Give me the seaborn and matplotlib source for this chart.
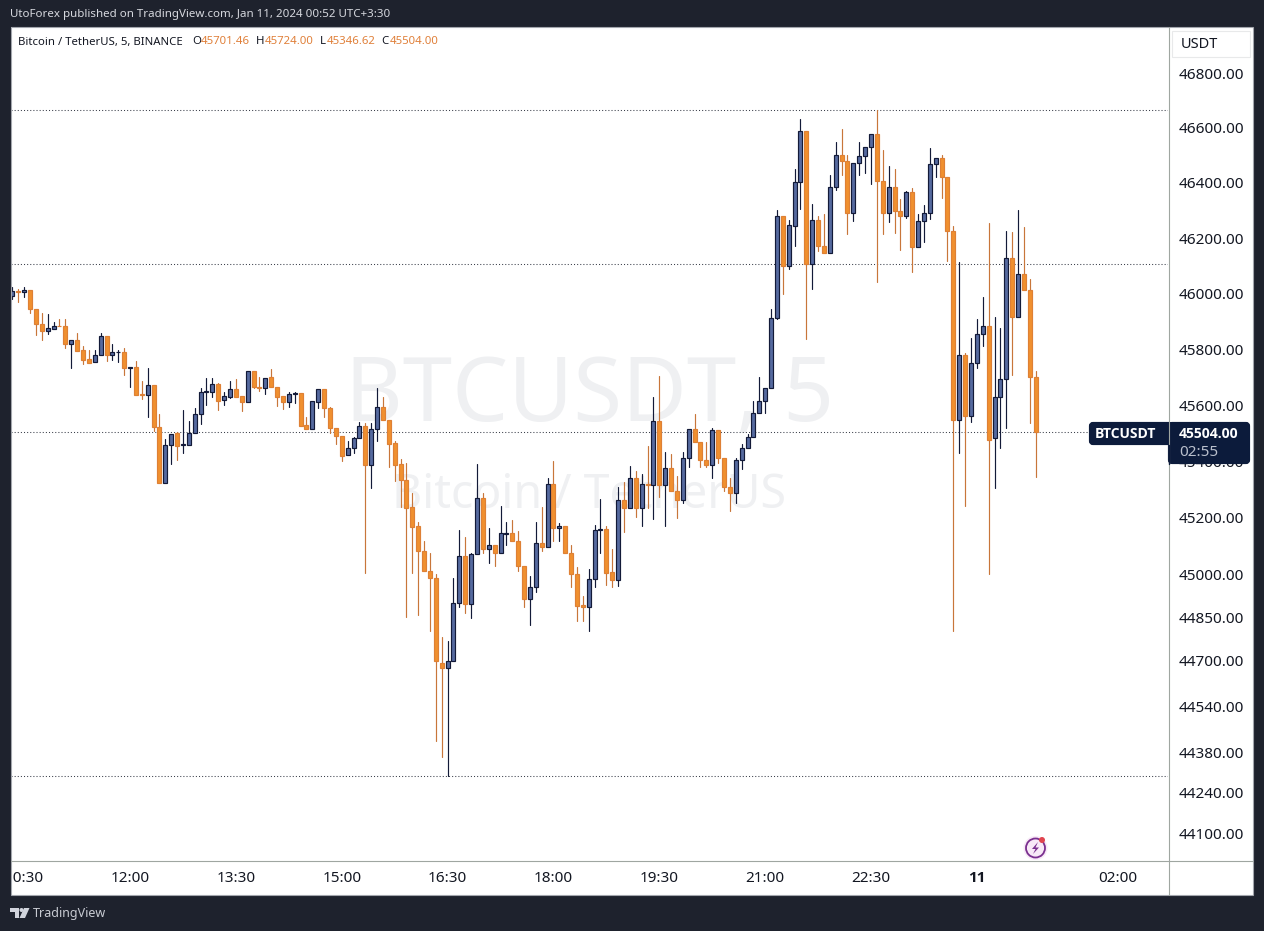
# import modules
import pandas as pd
import numpy as np
import matplotlib.pyplot as plt
import seaborn as sns
from matplotlib.patches import Rectangle, Circle, Polygon, FancyBboxPatch
from matplotlib.ticker import NullLocator

# 5 minute candles, first one at 10:20
opens = [45990, 46011, 46004, 46014, 45946, 45889, 45867, 45874, 45885, 45882,
         45820, 45835, 45799, 45767, 45756, 45781, 45849, 45781, 45790, 45792,
         45734, 45738, 45641, 45637, 45673, 45523, 45323, 45458, 45501, 45458,
         45458, 45501, 45569, 45648, 45648, 45677, 45619, 45630, 45659, 45634,
         45612, 45724, 45666, 45663, 45702, 45666, 45634, 45612, 45641, 45645,
         45530, 45515, 45612, 45659, 45591, 45519, 45490, 45422, 45447, 45483,
         45526, 45386, 45515, 45594, 45548, 45465, 45390, 45334, 45239, 45173,
         45082, 45012, 44987, 44689, 44672, 44696, 44900, 45064, 44896, 45071,
         45270, 45092, 45103, 45078, 45145, 45148, 45117, 45029, 44914, 44957,
         45113, 45096, 45320, 45166, 45173, 45075, 45001, 44893, 44886, 44984,
         45159, 45162, 45008, 44981, 45263, 45236, 45341, 45236, 45320, 45316,
         45544, 45316, 45376, 45295, 45263, 45411, 45515, 45469, 45404, 45386,
         45512, 45411, 45309, 45288, 45404, 45447, 45487, 45573, 45616, 45663,
         45914, 46279, 46101, 46243, 46402, 46590, 46105, 46264, 46170, 46148,
         46384, 46503, 46481, 46290, 46471, 46496, 46529, 46576, 46405, 46290,
         46384, 46297, 46279, 46366, 46167, 46261, 46290, 46467, 46489, 46420,
         46224, 45548, 45781, 45562, 45752, 45856, 45882, 45483, 45630, 45695,
         46127, 45917, 46069, 46014, 45701.46]
highs = [46025, 46018, 46022, 46014, 45946, 45932, 45928, 45899, 45910, 45910,
         45835, 45860, 45813, 45799, 45799, 45860, 45849, 45820, 45799, 45806,
         45738, 45759, 45688, 45734, 45673, 45569, 45480, 45498, 45505, 45584,
         45544, 45591, 45663, 45698, 45698, 45680, 45648, 45688, 45695, 45634,
         45724, 45724, 45702, 45698, 45731, 45666, 45634, 45648, 45648, 45645,
         45558, 45616, 45659, 45659, 45594, 45519, 45490, 45472, 45487, 45540,
         45537, 45537, 45663, 45630, 45548, 45472, 45408, 45393, 45288, 45187,
         45117, 45075, 45001, 44780, 44766, 44987, 45159, 45131, 45078, 45390,
         45288, 45166, 45103, 45243, 45187, 45194, 45155, 45029, 44994, 45187,
         45239, 45341, 45400, 45183, 45173, 45103, 45026, 44924, 45019, 45176,
         45267, 45173, 45089, 45309, 45327, 45383, 45365, 45355, 45454, 45630,
         45705, 45433, 45426, 45348, 45433, 45515, 45569, 45469, 45469, 45519,
         45512, 45411, 45341, 45411, 45461, 45498, 45616, 45702, 45663, 45943,
         46300, 46279, 46264, 46449, 46634, 46590, 46322, 46279, 46286, 46427,
         46547, 46597, 46503, 46471, 46550, 46529, 46576, 46666, 46521, 46463,
         46452, 46340, 46369, 46380, 46286, 46319, 46525, 46492, 46503, 46420,
         46243, 46112, 45788, 45842, 45907, 45986, 46253, 45917, 45878, 46224,
         46221, 46300, 46239, 46054, 45724]
lows = [45982, 45971, 45986, 45932, 45853, 45835, 45856, 45871, 45882, 45806,
        45734, 45795, 45749, 45752, 45756, 45781, 45759, 45763, 45756, 45709,
        45666, 45637, 45623, 45558, 45508, 45323, 45323, 45390, 45404, 45429,
        45458, 45501, 45533, 45601, 45630, 45584, 45601, 45627, 45630, 45580,
        45612, 45663, 45652, 45641, 45666, 45598, 45587, 45594, 45609, 45526,
        45515, 45515, 45591, 45558, 45501, 45461, 45400, 45422, 45429, 45483,
        45005, 45306, 45472, 45548, 45379, 45330, 45239, 44851, 45005, 44858,
        45012, 44801, 44420, 44364, 44297, 44696, 44886, 44865, 44847, 45071,
        45075, 45040, 45029, 45078, 45106, 45117, 45012, 44886, 44822, 44939,
        45082, 45096, 45120, 45117, 45075, 44957, 44836, 44836, 44801, 44957,
        45075, 44964, 44957, 44960, 45152, 45236, 45204, 45173, 45236, 45197,
        45274, 45173, 45295, 45200, 45253, 45379, 45469, 45379, 45379, 45341,
        45393, 45295, 45225, 45253, 45372, 45447, 45487, 45573, 45573, 45663,
        45907, 46000, 46087, 46170, 46304, 45838, 46018, 46152, 46148, 46148,
        46373, 46427, 46214, 46261, 46427, 46434, 46395, 46043, 46214, 46257,
        46217, 46156, 46272, 46076, 46167, 46185, 46268, 46420, 46344, 46119,
        44801, 45429, 45243, 45540, 45734, 45813, 45001, 45306, 45447, 45519,
        45709, 45917, 46014, 45537, 45346.62]
closes = [46010, 46007, 46014, 45946, 45889, 45867, 45878, 45885, 45882, 45820,
          45835, 45795, 45763, 45752, 45781, 45849, 45781, 45792, 45792, 45734,
          45738, 45637, 45637, 45673, 45523, 45323, 45458, 45498, 45454, 45461,
          45501, 45569, 45648, 45652, 45677, 45616, 45634, 45659, 45630, 45612,
          45724, 45666, 45663, 45698, 45666, 45630, 45612, 45641, 45645, 45526,
          45515, 45616, 45659, 45591, 45519, 45490, 45418, 45447, 45483, 45526,
          45386, 45515, 45594, 45548, 45461, 45386, 45334, 45236, 45169, 45082,
          45012, 44987, 44696, 44672, 44696, 44900, 45064, 44896, 45071, 45270,
          45092, 45103, 45078, 45148, 45148, 45117, 45029, 44914, 44957, 45113,
          45096, 45320, 45166, 45173, 45075, 45001, 44889, 44886, 44984, 45159,
          45162, 45005, 44981, 45263, 45236, 45341, 45236, 45320, 45316, 45544,
          45316, 45376, 45295, 45263, 45411, 45515, 45469, 45404, 45386, 45512,
          45411, 45309, 45288, 45404, 45447, 45487, 45573, 45616, 45663, 45914,
          46279, 46101, 46246, 46402, 46590, 46105, 46264, 46170, 46148, 46384,
          46503, 46481, 46290, 46471, 46496, 46529, 46576, 46405, 46290, 46384,
          46297, 46279, 46366, 46167, 46261, 46290, 46467, 46489, 46420, 46224,
          45548, 45781, 45562, 45752, 45856, 45882, 45476, 45630, 45695, 46127,
          45917, 46069, 46014, 45702, 45504]

# Price axis labels and the dotted levels
price_ticks = [46800, 46600, 46400, 46200, 46000, 45800, 45600, 45400, 45200,
               45000, 44850, 44700, 44540, 44380, 44240, 44100]
levels = [46666, 46105, 45504, 44297]

# Time axis labels, given as candle number
time_positions = [2, 20, 38, 56, 74, 92, 110, 128, 146, 164, 188]
time_labels = ['10:30', '12:00', '13:30', '15:00', '16:30', '18:00', '19:30',
               '21:00', '22:30', '11', '02:00']

W, H = 1264, 931
DARK = '#1e222d'
NAVY = '#0c1b3b'
UP_FILL, UP_EDGE = '#566a9f', '#131a38'
DOWN_FILL, DOWN_EDGE = '#f0902f', '#de8035'
DOWN_WICK = '#c8763a'
LINE_GREY = '#9fa6a1'
AXIS_FONT = 11

candles = pd.DataFrame({'open': opens, 'high': highs, 'low': lows,
                        'close': closes})
candles['n'] = candles.index
candles['side'] = np.where(candles['close'] >= candles['open'], 'up', 'down')

sns.set_style('white')
plt.rcParams['font.family'] = ['Noto Sans', 'DejaVu Sans']

fig = plt.figure(figsize=(W / 100, H / 100), dpi=100, facecolor=DARK)

# white strip behind the two axes
bg = fig.add_axes([0, 0, 1, 1], zorder=-1)
bg.set_xlim(0, W)
bg.set_ylim(H, 0)
bg.axis('off')
bg.add_patch(Rectangle((11, 27), 1242, 868, color='white', lw=0))

# main pane, 11..1168 across and 27..860 down
ax = fig.add_axes([11 / W, 1 - 860 / H, 1157 / W, 833 / H], zorder=1)
ax.set_facecolor('white')
ax.set_yscale('log')

ax.text(0.5, 0.555, 'BTCUSDT, 5', transform=ax.transAxes, ha='center',
        va='center', fontsize=64, color='#eff0f2', zorder=0)
ax.text(0.5, 0.437, 'Bitcoin / TetherUS', transform=ax.transAxes, ha='center',
        va='center', fontsize=33.5, color='#eff0f2', zorder=0)

for level in levels:
    ax.axhline(level, color='#3a3f4a', lw=0.75, ls=(0, (1, 2)), zorder=1)

# wicks
wicks = candles.melt(id_vars=['n', 'side'], value_vars=['high', 'low'],
                     value_name='price')
sns.lineplot(data=wicks, x='n', y='price', hue='side', units='n',
             estimator=None, sort=False, legend=False, lw=0.85, ax=ax,
             palette={'up': UP_EDGE, 'down': DOWN_WICK}, zorder=2)

# bodies
for side, fill, edge in [('up', UP_FILL, UP_EDGE),
                         ('down', DOWN_FILL, DOWN_EDGE)]:
    part = candles[candles['side'] == side]
    bottoms = part[['open', 'close']].min(axis=1)
    heights = (part['open'] - part['close']).abs()
    ax.bar(part['n'], heights, bottom=bottoms, width=0.68, color=fill,
           edgecolor=edge, linewidth=0.85, zorder=3)

ax.set_xlim(-0.24, 196.5)
ax.set_ylim(44007, 46969)
ax.set_xlabel('')
ax.set_ylabel('')
ax.yaxis.tick_right()
ax.yaxis.set_minor_locator(NullLocator())
ax.set_yticks(price_ticks)
ax.set_yticklabels([f'{p:.2f}' for p in price_ticks])
ax.set_xticks(time_positions)
ax.set_xticklabels(time_labels)
ax.tick_params(axis='y', length=0, pad=8, labelsize=AXIS_FONT,
               labelcolor='#131722', labelright=True, labelleft=False)
ax.tick_params(axis='x', length=0, pad=8, labelsize=AXIS_FONT,
               labelcolor='#131722', labelbottom=True)
ax.get_xticklabels()[9].set_fontweight('bold')
ax.get_xticklabels()[9].set_family('Open Sans')
for spine in ax.spines.values():
    spine.set_visible(False)

# everything that is not chart data sits on a pixel overlay
ov = fig.add_axes([0, 0, 1, 1], zorder=2)
ov.set_xlim(0, W)
ov.set_ylim(H, 0)
ov.axis('off')
ov.patch.set_alpha(0)

# dark frame, hides the start of the first time label
ov.add_patch(Rectangle((0, 0), 10.5, H, color=DARK, lw=0))
ov.add_patch(Rectangle((1253, 0), 11, H, color=DARK, lw=0))
ov.add_patch(Rectangle((0, 0), W, 27, color=DARK, lw=0))
ov.add_patch(Rectangle((0, 895), W, 36, color=DARK, lw=0))
ov.plot([11, 1253], [860.5, 860.5], color=LINE_GREY, lw=0.8)
ov.plot([1168.5, 1168.5], [27, 895], color=LINE_GREY, lw=0.8)
ov.add_patch(Rectangle((10.5, 27), 1242.5, 868, fill=False, ec='#a3a6ad',
                       lw=0.8))

# header and footer
ov.text(10, 14.5, 'UtoForex published on TradingView.com, Jan 11, 2024 00:52 UTC+3:30',
        color='#d6d8de', fontsize=8.3, va='center')
ov.text(33, 913.5, 'TradingView', color='#c8cbd2', fontsize=9, va='center')
ov.add_patch(Polygon([(10, 908), (19, 908), (19, 918), (14.5, 918), (14.5, 912),
                      (10, 912)], color='#d1d4dc', lw=0))
ov.add_patch(Circle((21.5, 910), 2, color='#d1d4dc', lw=0))
ov.add_patch(Polygon([(24, 908), (29.5, 908), (25, 918), (19.5, 918)],
                     color='#d1d4dc', lw=0))

# OHLC legend
ov.text(18, 42, 'Bitcoin / TetherUS, 5, BINANCE', color='#131722', fontsize=8.2,
        va='center')
for letter, x_letter, value, x_value in [('O', 192, '45701.46', 201),
                                         ('H', 256, '45724.00', 265),
                                         ('L', 320, '45346.62', 327),
                                         ('C', 381, '45504.00', 390)]:
    ov.text(x_letter, 42, letter, color='#131722', fontsize=8.2, va='center')
    ov.text(x_value, 42, value, color='#e0803a', fontsize=8.2, va='center')

# currency box
ov.add_patch(Rectangle((1172, 31), 78, 26, fc='white', ec='#e8e9ea', lw=0.8))
ov.text(1181, 45, 'USDT', color='#131722', fontsize=AXIS_FONT - 0.5, va='center')

# last price labels
ov.add_patch(FancyBboxPatch((1091, 424), 80, 19, boxstyle='round,pad=0,rounding_size=2',
                            mutation_aspect=1, fc=NAVY, ec=NAVY, lw=3))
ov.add_patch(FancyBboxPatch((1170, 424), 78, 38, boxstyle='round,pad=0,rounding_size=2',
                            mutation_aspect=1, fc=NAVY, ec=NAVY, lw=3))
ov.plot([1168.5, 1168.5], [445, 464], color=NAVY, lw=1)
ov.text(1095, 434, 'BTCUSDT', color='white', fontsize=AXIS_FONT - 1,
        fontweight='bold', family='Open Sans', va='center')
ov.text(1179, 434, '45504.00', color='white', fontsize=AXIS_FONT - 1,
        fontweight='bold', family='Open Sans', va='center')
ov.text(1179, 453, '02:55', color='#b9bfcc', fontsize=AXIS_FONT, va='center')

# flash icon
ov.add_patch(Circle((1035.5, 848), 12, color='#f8e9f7', lw=0))
ov.add_patch(Circle((1035.5, 848), 9.5, fill=False, ec='#7a2f8f', lw=1.3))
ov.add_patch(Polygon([(1038, 842), (1032, 849), (1035.5, 849), (1033, 854),
                      (1039, 847.5), (1035.5, 847.5)], color='#7a2f8f', lw=0))
ov.add_patch(Circle((1042, 840), 3, color='#e0454f', lw=0))

plt.savefig('out.png', dpi=100, facecolor=fig.get_facecolor())
